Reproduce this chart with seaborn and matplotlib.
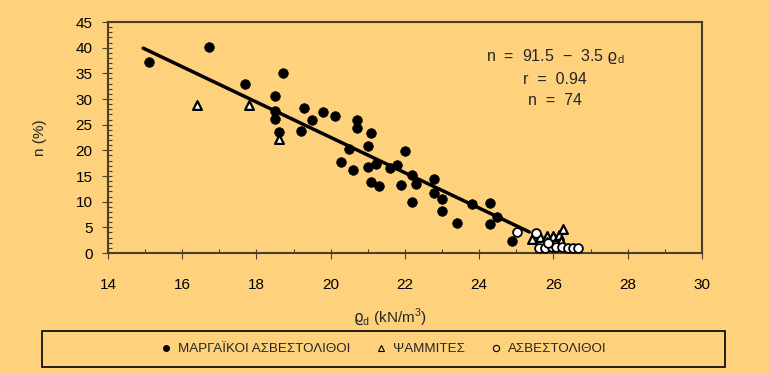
import matplotlib
matplotlib.use("Agg")
import matplotlib.pyplot as plt
import seaborn as sns
import pandas as pd
from matplotlib.patches import Rectangle
from matplotlib.lines import Line2D

# data: dry unit weight (kN/m3) vs porosity n (%)
marl_rho = [15.10, 16.71, 17.70, 18.71, 18.50, 18.50, 18.50, 18.61, 19.29, 19.50,
            19.80, 20.11, 19.21, 20.70, 20.70, 21.09, 21.00, 20.50, 20.29, 20.59,
            21.00, 21.21, 21.09, 21.30, 21.59, 21.79, 22.00, 21.88, 22.20, 22.29,
            22.20, 22.79, 22.79, 23.00, 23.00, 23.39, 23.80, 24.30, 24.49, 24.30,
            24.89]
marl_n = [37.3, 40.1, 32.9, 35.0, 30.6, 27.7, 26.1, 23.6, 28.3, 26.0,
          27.5, 26.7, 23.8, 26.0, 24.3, 23.3, 20.9, 20.3, 17.8, 16.2,
          16.8, 17.3, 13.9, 13.1, 16.6, 17.1, 19.9, 13.2, 15.2, 13.4,
          10.0, 14.4, 11.6, 10.5, 8.2, 5.9, 9.5, 9.8, 7.1, 5.6,
          2.4]
sand_rho = [16.41, 17.80, 18.61, 25.41, 25.64, 25.82, 26.00, 26.15, 26.25, 25.82, 26.20]
sand_n = [28.8, 28.8, 22.3, 2.7, 3.2, 3.4, 3.3, 3.6, 4.6, 2.1, 2.4]
lime_rho = [25.03, 25.53, 25.62, 25.77, 25.95, 26.08, 26.22, 26.40, 26.53, 26.67, 25.85]
lime_n = [4.0, 3.9, 0.9, 0.9, 1.1, 1.2, 1.2, 0.9, 0.9, 0.9, 2.0]

fit_rho = [14.95, 25.35]
fit_n = [39.9, 4.1]

fit_lines = ["n  =  91.5  \u2212  3.5 $\\varrho_{\\rm d}$", "r  =  0.94", "n  =  74"]
group_names = ["ΜΑΡΓΑΪΚΟΙ ΑΣΒΕΣΤΟΛΙΘΟΙ", "ΨΑΜΜΙΤΕΣ", "ΑΣΒΕΣΤΟΛΙΘΟΙ"]

bg = "#FED17D"
frame = "#4a3f2c"

sns.set_theme(style="ticks")
plt.rcParams["font.family"] = ["Liberation Sans", "DejaVu Sans"]
plt.rcParams["mathtext.fontset"] = "custom"
plt.rcParams["mathtext.rm"] = "Liberation Sans"
plt.rcParams["mathtext.it"] = "DejaVu Sans"

fig = plt.figure(figsize=(7.69, 3.73), dpi=100, facecolor=bg)
ax = fig.add_axes([0.1404, 0.3217, 0.7724, 0.6193])
ax.set_facecolor(bg)

marl = pd.DataFrame({"rho": marl_rho, "n": marl_n})
sand = pd.DataFrame({"rho": sand_rho, "n": sand_n})
lime = pd.DataFrame({"rho": lime_rho, "n": lime_n})
fit = pd.DataFrame({"rho": fit_rho, "n": fit_n})

sns.lineplot(data=fit, x="rho", y="n", ax=ax, color="black", linewidth=2.5, zorder=2)
sns.scatterplot(data=marl, x="rho", y="n", ax=ax, marker="o", s=48,
                color="black", edgecolor="black", linewidth=0.5, zorder=3)
sns.scatterplot(data=sand, x="rho", y="n", ax=ax, marker="^", s=40,
                facecolor="white", edgecolor="black", linewidth=1.6, zorder=3)
sns.scatterplot(data=lime, x="rho", y="n", ax=ax, marker="o", s=40,
                facecolor="white", edgecolor="black", linewidth=1.3, zorder=3)

ax.set_xlim(14, 30)
ax.set_ylim(0, 45)
ax.set_xticks(range(14, 31, 2))
ax.set_xticks(range(14, 31, 1), minor=True)
ax.set_yticks(range(0, 46, 5))
ax.set_yticks(range(0, 46, 1), minor=True)
ax.xaxis.remove_overlapping_locs = False
ax.yaxis.remove_overlapping_locs = False
ax.tick_params(which="major", direction="out", length=4, width=0.8, color=frame,
               labelsize=11, labelcolor="black")
ax.tick_params(axis="x", which="major", pad=14)
ax.tick_params(axis="y", which="major", pad=7)
ax.tick_params(which="minor", direction="in", length=3, width=0.8, color=frame)
for sp in ax.spines.values():
    sp.set_color(frame)
    sp.set_linewidth(1.5)

ax.set_xlabel("$\\varrho_{\\rm d}$ (kN/m$^3$)", fontsize=11)
ax.xaxis.set_label_coords(0.475, -0.28)
ax.xaxis.label.set_va("center")
ax.set_ylabel("n (%)", fontsize=11)
ax.yaxis.set_label_coords(-0.1145, 0.5)
ax.yaxis.label.set_va("center")

for txt, yy in zip(fit_lines, [0.85, 0.749, 0.662]):
    ax.text(0.7525, yy, txt, transform=ax.transAxes, ha="center", va="center",
            fontsize=11.5)

# legend box under the plot
fig.patches.append(Rectangle((0.0546, 0.016), 0.888, 0.097, transform=fig.transFigure,
                             facecolor="none", edgecolor="black", linewidth=1.2))
handles = [
    Line2D([], [], marker="o", linestyle="none", color="black", markersize=4),
    Line2D([], [], marker="^", linestyle="none", markerfacecolor="none",
           markeredgecolor="black", markersize=5, markeredgewidth=0.8),
    Line2D([], [], marker="o", linestyle="none", markerfacecolor="none",
           markeredgecolor="black", markersize=4.5, markeredgewidth=0.8),
]
fig.legend(handles, group_names, loc="center", bbox_to_anchor=(0.497, 0.064), ncol=3,
           frameon=False, handletextpad=0.3, columnspacing=1.7, handlelength=1.2,
           prop={"family": ["Liberation Sans Narrow", "Liberation Sans"], "size": 9.6})

fig.savefig("out.png", dpi=100, facecolor=bg)
